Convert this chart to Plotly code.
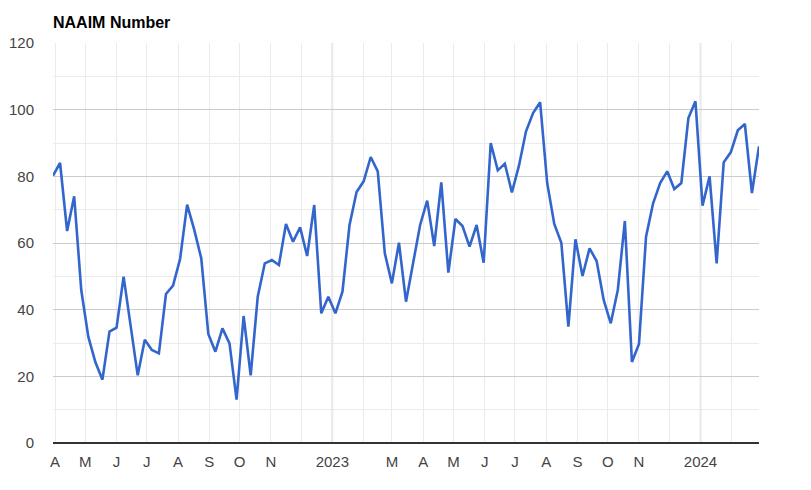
"""
NAAIM Exposure Index, weekly readings Apr 2022 - Feb 2024.
"""
import pandas as pd
import plotly.graph_objects as go

FONT = "Arial, Liberation Sans, sans-serif"
LINE_BLUE = "#3366cc"

# weekly survey dates (Wednesdays)
WEEKS = pd.date_range("2022-03-30", periods=101, freq="7D")

NAAIM = [
    80.2, 84.0, 63.6, 74.0, 45.9, 31.9, 24.3, 19.0, 33.4, 34.6,
    49.9, 35.0, 20.3, 31.0, 27.9, 26.9, 44.7, 47.2, 55.2, 71.5,
    64.0, 55.4, 32.7, 27.4, 34.4, 29.9, 13.0, 38.1, 20.3, 43.9,
    53.9, 54.9, 53.4, 65.7, 60.4, 64.7, 56.1, 71.4, 38.9, 43.9,
    38.9, 45.4, 65.4, 75.3, 78.5, 85.8, 81.5, 56.9, 47.9, 60.1,
    42.4, 53.9, 65.4, 72.7, 59.1, 78.2, 51.1, 67.2, 65.1, 58.9,
    65.4, 54.1, 90.0, 81.8, 83.8, 75.2, 83.2, 93.5, 99.0, 102.2,
    78.0, 65.7, 60.1, 34.9, 61.1, 50.1, 58.4, 54.6, 42.9, 35.9,
    45.9, 66.6, 24.3, 29.7, 61.9, 71.9, 78.0, 81.5, 76.2, 78.0,
    97.5, 102.5, 71.2, 80.0, 53.9, 84.2, 87.2, 93.8, 95.7, 75.0,
    89.0,
]

MONTH_TICKS = pd.date_range("2022-04-01", "2024-02-01", freq="MS")
MONTH_LABELS = [
    "A", "M", "J", "J", "A", "S", "O", "N", "", "2023", "", "M",
    "A", "M", "J", "J", "A", "S", "O", "N", "", "2024", "",
]
YEAR_LINES = ["2023-01-01", "2024-01-01"]

fig = go.Figure()
fig.add_trace(
    go.Scatter(
        x=WEEKS,
        y=NAAIM,
        mode="lines",
        name="NAAIM Number",
        line=dict(color=LINE_BLUE, width=2.6),
        showlegend=False,
    )
)

for d in YEAR_LINES:
    fig.add_vline(x=d, line_color="#cccccc", line_width=1.5, layer="below")

fig.update_xaxes(
    range=[WEEKS[0], WEEKS[-1]],
    tickvals=list(MONTH_TICKS),
    ticktext=MONTH_LABELS,
    showgrid=True,
    gridcolor="#ebebeb",
    gridwidth=1,
    tickfont=dict(family=FONT, size=15, color="#444444"),
    ticks="",
    ticklabelstandoff=8,
    showline=False,
    zeroline=False,
    automargin=False,
)
fig.update_yaxes(
    range=[0, 120],
    dtick=20,
    showgrid=True,
    gridcolor="#cccccc",
    gridwidth=1,
    minor=dict(dtick=10, showgrid=True, gridcolor="#ebebeb", gridwidth=1),
    tickfont=dict(family=FONT, size=15, color="#444444"),
    ticks="",
    ticklabelstandoff=18,
    zeroline=True,
    zerolinecolor="#333333",
    zerolinewidth=2,
    showline=False,
    automargin=False,
)

# the page adds an 8px body margin, so the margins are shifted to compensate
fig.update_layout(
    width=811,
    height=490,
    margin=dict(l=45, r=60, t=35, b=55),
    paper_bgcolor="white",
    plot_bgcolor="white",
    font=dict(family=FONT, color="#222222"),
    title=dict(
        text="<b>NAAIM Number</b>",
        x=45 / 811,
        xanchor="left",
        y=1 - 14 / 490,
        yanchor="middle",
        font=dict(family=FONT, size=16, color="#000000"),
    ),
)

fig.write_html("out.html")
